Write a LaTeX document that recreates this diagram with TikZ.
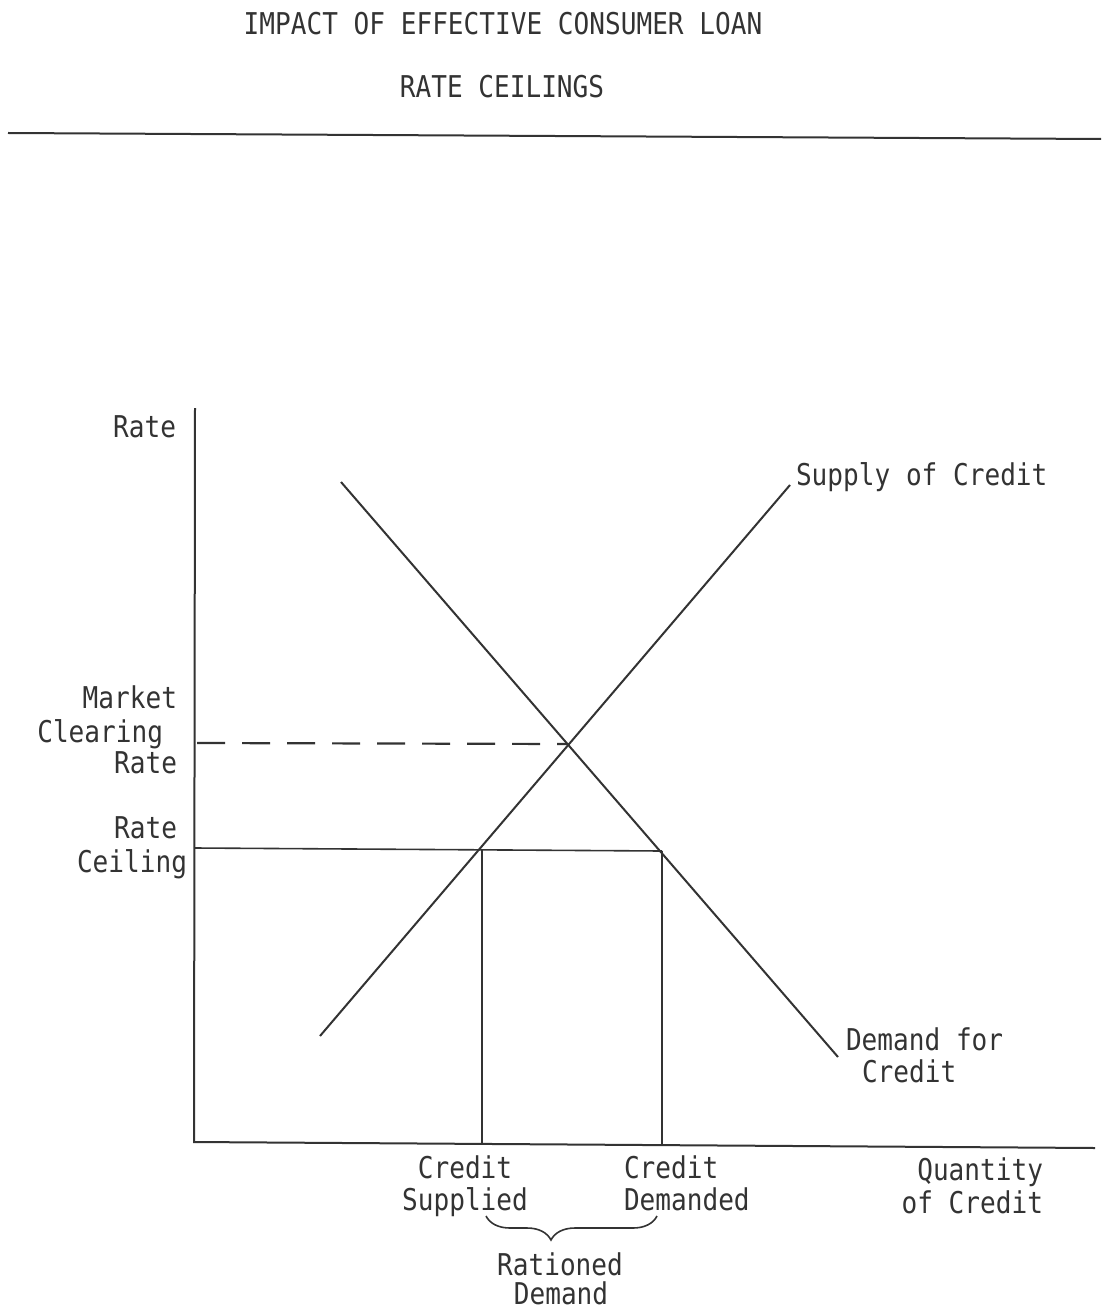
\documentclass[tikz,border=0pt]{standalone}
\usepackage{fontspec}
\newfontfamily\tw{DejaVu Sans Mono}[FakeStretch=0.87]
\usetikzlibrary{decorations.pathreplacing}
\definecolor{ink}{rgb}{0.2,0.2,0.2}
\begin{document}
\begin{tikzpicture}[x=1bp,y=-1bp,
  lbl/.style={inner sep=0pt, outer sep=0pt, text=ink, font=\tw\fontsize{30bp}{32bp}\selectfont},
  curve/.style={draw=ink, line width=2bp},
  axisline/.style={draw=ink, line width=2bp},
  thinline/.style={draw=ink, line width=1.6bp},
  dashline/.style={draw=ink, line width=2.2bp, dash pattern=on 28bp off 17bp},
  bracestyle/.style={draw=ink, line width=1.6bp, decorate, decoration={brace, mirror, amplitude=24bp, aspect=0.38}}
]
\useasboundingbox (0,0) rectangle (1101,1311);
% title
\node[lbl, anchor=base] (t1) at (503,35) {IMPACT OF EFFECTIVE CONSUMER LOAN};
\node[lbl, anchor=base] (t2) at (502,98) {RATE CEILINGS};
\coordinate (ruleL) at (8,133);
\coordinate (ruleR) at (1101,139);
\draw[axisline] (ruleL) -- (ruleR);
% axes
\coordinate (ytop) at (195,408);
\coordinate (O) at (194,1142);
\coordinate (xend) at (1095,1148);
\draw[axisline] (ytop) -- (O) -- (xend);
% curves
\coordinate (s1) at (320,1036);
\coordinate (s2) at (790,485);
\coordinate (d1) at (341,482);
\coordinate (d2) at (838,1057);
\draw[curve] (s1) -- (s2);
\draw[curve] (d1) -- (d2);
% equilibrium and ceiling
\coordinate (E) at (568,744);
\coordinate (M0) at (197,743);
\draw[dashline] (M0) -- (E);
\coordinate (C0) at (195,848);
\coordinate (CS) at (482,849);
\coordinate (CD) at (662,851);
\coordinate (FS) at (482,1143);
\coordinate (FD) at (662,1145);
\draw[thinline] (C0) -- (CD);
\draw[thinline] (CS) -- (FS);
\draw[thinline] (CD) -- (FD);
% labels
\node[lbl, anchor=base east] (rate) at (176,437) {Rate};
\node[lbl, anchor=base east] (mk1) at (177,708) {Market};
\node[lbl, anchor=base east] (mk2) at (163,742) {Clearing};
\node[lbl, anchor=base east] (mk3) at (177,773) {Rate};
\node[lbl, anchor=base east] (rc1) at (177,838) {Rate};
\node[lbl, anchor=base east] (rc2) at (187,872) {Ceiling};
\node[lbl, anchor=base west] (sup) at (796,485) {Supply of Credit};
\node[lbl, anchor=base west] (dem1) at (846,1050) {Demand for};
\node[lbl, anchor=base west] (dem2) at (862,1082) {Credit};
\node[lbl, anchor=base east] (q1) at (1043,1180) {Quantity};
\node[lbl, anchor=base east] (q2) at (1043,1213) {of Credit};
\node[lbl, anchor=base] (cs1) at (465,1178) {Credit};
\node[lbl, anchor=base] (cs2) at (465,1210) {Supplied};
\node[lbl, anchor=base west] (cd1) at (624,1178) {Credit};
\node[lbl, anchor=base west] (cd2) at (624,1210) {Demanded};
\coordinate (bl) at (486,1216);
\coordinate (br) at (657,1216);
\draw[bracestyle] (bl) -- (br);
\node[lbl, anchor=base] (rd1) at (560,1275) {Rationed};
\node[lbl, anchor=base] (rd2) at (561,1304) {Demand};
\end{tikzpicture}
\end{document}
